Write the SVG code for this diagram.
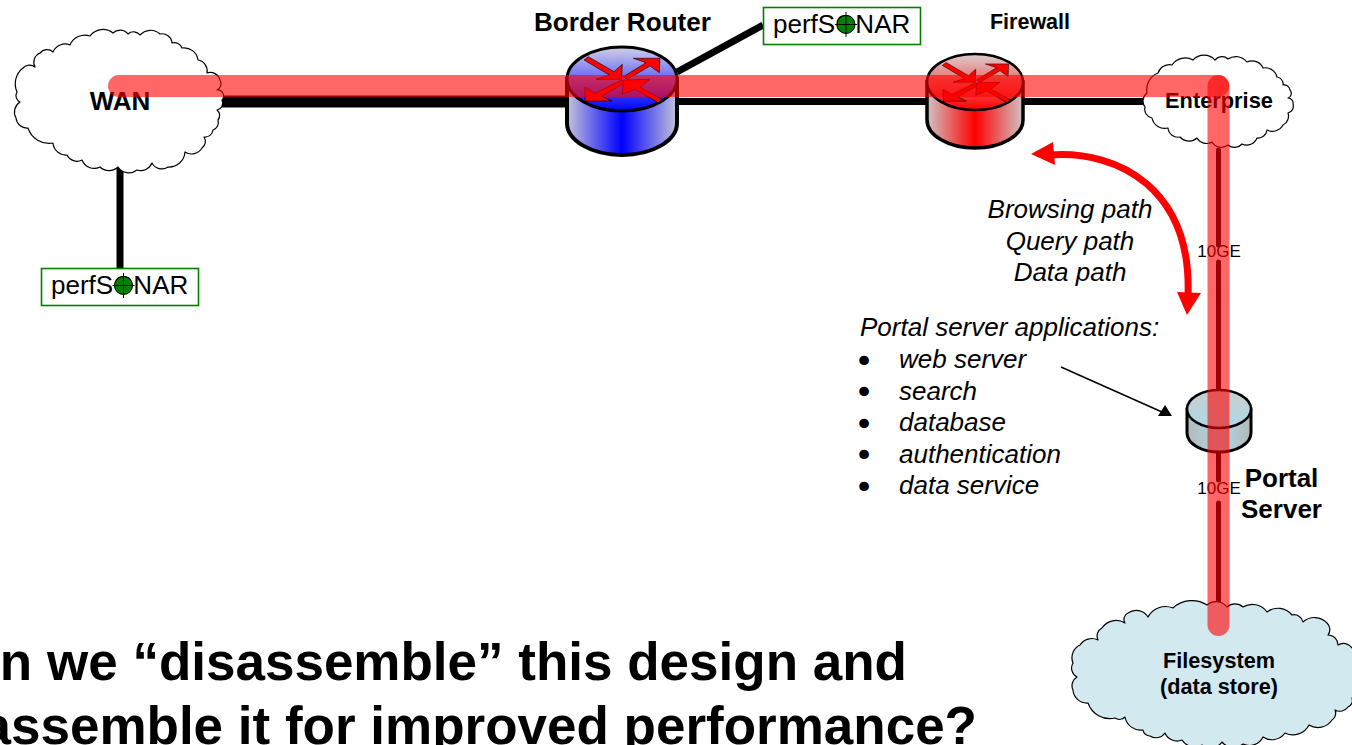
<svg xmlns="http://www.w3.org/2000/svg" width="1352" height="745" viewBox="0 0 1352 745">
<style>
text{font-family:"Liberation Sans",Arial,Helvetica,sans-serif;fill:#000}
.b{font-weight:bold}
.i{font-style:italic;font-size:26px}
.m{text-anchor:middle}
.bu{font-size:26px;stroke:#000;stroke-width:2.6}
.cloud{stroke:#000;stroke-width:1.2;stroke-linejoin:round}
.k{stroke:#000;fill:none}
.ps{fill:#fff;stroke:#008000;stroke-width:1.6}
.pt{font-size:26px}
.logo{fill:#008000;stroke:#000;stroke-width:1}
.ar{fill:#f00;stroke:#000;stroke-width:.6;stroke-linejoin:round}
.band{stroke:#f00;stroke-opacity:.6;stroke-width:22;stroke-linecap:round;fill:none}
.g10{font-size:17px}
</style>
<defs>
<linearGradient id="bb"><stop offset="0" stop-color="#c4c4da"/><stop offset=".5" stop-color="#00f"/><stop offset="1" stop-color="#c4c4da"/></linearGradient>
<linearGradient id="bt" x1="0" y1="0" x2="0" y2="1"><stop offset="0" stop-color="#d0d0e6"/><stop offset="1" stop-color="#00f"/></linearGradient>
<linearGradient id="rb"><stop offset="0" stop-color="#d0c4c4"/><stop offset=".5" stop-color="#f00"/><stop offset="1" stop-color="#d0c4c4"/></linearGradient>
<linearGradient id="rt" x1="0" y1="0" x2="0" y2="1"><stop offset="0" stop-color="#dcd0d0"/><stop offset="1" stop-color="#f00"/></linearGradient>
<linearGradient id="sb"><stop offset="0" stop-color="#b4b8ba"/><stop offset=".5" stop-color="#add8e6"/><stop offset="1" stop-color="#b4b8ba"/></linearGradient>
<linearGradient id="st" x1="0" y1="0" x2="0" y2="1"><stop offset="0" stop-color="#c8ced0"/><stop offset="1" stop-color="#add8e6"/></linearGradient>
<g id="arrows">
<polygon class="ar" points="-33.7,-22.3 -8,-7.3 .3,-14.7 -.3,.3 -26,.3 -12.7,-4 -38,-19"/>
<polygon class="ar" points="1.3,-2.3 24,-16.3 11.3,-20.7 38,-20.7 37.3,-6.3 28,-13 5.3,.3"/>
<polygon class="ar" points="-.3,1 -27,14.3 -37,8.3 -37,22 -10.3,22 -20.3,17 2.3,4.3"/>
<polygon class="ar" points=".3,15.3 13,10.3 36.3,23.7 39.7,20.3 18,8.3 28,.3 1.3,1"/>
</g>
</defs>
<rect width="1352" height="745" fill="#fff"/>

<g id="connectors">
<path class="k" stroke-width="12" d="M215,101.500H570"/>
<path class="k" stroke-width="7" d="M675,101.500H930M1020,101.500H1150"/>
<path class="k" stroke-width="7" d="M677,72L763,25"/>
<path class="k" stroke-width="7" d="M120,165V268"/>
<path class="k" stroke-width="5" stroke-linecap="round" d="M1218.500,150V245M1218.500,262V480M1218.500,503V612"/>
<path class="k" stroke-width="1.500" d="M1061,367L1162,412"/>
<polygon points="1172,416 1158,416 1165,405"/>
<path d="M1050,155C1120,150 1192,190 1188,296" fill="none" stroke="#f00" stroke-width="7"/>
<polygon points="1031,154 1053,142 1055,165" fill="#f00"/>
<polygon points="1187,315 1177,292 1201,293" fill="#f00"/>
</g>

<g id="wan">
<path class="cloud" fill="#fff" d="M53,52A13,13 0 0 1 70,45A16,16 0 0 1 90,36A16,16 0 0 1 113,33A10,10 0 0 1 128,34A8,8 0 0 1 140,35A14,14 0 0 1 160,34A10,10 0 0 1 172,43A8,8 0 0 1 182,48A14,14 0 0 1 198,60A11,11 0 0 1 207,73A10,10 0 0 1 220,80A7,7 0 0 1 217,90A6,6 0 0 1 222,100A7,7 0 0 1 217,110A7,7 0 0 1 218,120A8,8 0 0 1 213,130A8,8 0 0 1 204,137A8,8 0 0 1 202,148A12,12 0 0 1 185,152A16,16 0 0 1 168,167A11,11 0 0 1 152,163A12,12 0 0 1 137,170A13,13 0 0 1 118,167A13,13 0 0 1 100,167A13,13 0 0 1 82,160A11,11 0 0 1 67,155A13,13 0 0 1 53,143A22,22 0 0 1 28,128A11,11 0 0 1 16,118A12,12 0 0 1 20,102A7,7 0 0 1 17,92A20,20 0 0 1 23,68A9,9 0 0 1 35,67A10,10 0 0 1 40,53A9,9 0 0 1 53,52Z"/>
<text class="b m" x="120" y="110" font-size="26">WAN</text>
</g>

<g id="border-router">
<path d="M567,79V123A55,32 0 0 0 677,123V79Z" fill="url(#bb)" stroke="#000" stroke-width="4"/>
<ellipse cx="622" cy="79" rx="55" ry="32" fill="url(#bt)" stroke="#000" stroke-width="3"/>
<use href="#arrows" transform="translate(622,79)"/>
<text class="b m" x="622.500" y="31" font-size="26" textLength="177" lengthAdjust="spacingAndGlyphs">Border Router</text>
</g>

<g id="perfsonar-top">
<rect class="ps" x="763.500" y="7.500" width="157" height="37"/>
<text class="pt" x="773" y="33">perfSONAR</text>
<ellipse class="logo" cx="846" cy="24.500" rx="9" ry="9"/>
<path class="k" stroke-width="1" d="M846,12V37M835,24.500H857"/>
</g>

<g id="perfsonar-wan">
<rect class="ps" x="41.500" y="268.500" width="157" height="37"/>
<text class="pt" x="51" y="294">perfSONAR</text>
<ellipse class="logo" cx="123.500" cy="285.500" rx="9" ry="9"/>
<path class="k" stroke-width="1" d="M123.500,273V298M112.500,285.500H134.500"/>
</g>

<g id="firewall">
<path d="M927,82V120A48,28 0 0 0 1023,120V82Z" fill="url(#rb)" stroke="#000" stroke-width="3.500"/>
<ellipse cx="975" cy="82" rx="48" ry="28" fill="url(#rt)" stroke="#000" stroke-width="2.500"/>
<use href="#arrows" transform="translate(975.500,82) scale(.873)"/>
<text class="b m" x="1030" y="29" font-size="21.500">Firewall</text>
</g>

<g id="enterprise">
<path class="cloud" fill="#fff" d="M1158,73A12,12 0 0 1 1172,65A16,16 0 0 1 1193,60A15,15 0 0 1 1215,60A9,9 0 0 1 1228,59A14,14 0 0 1 1247,62A12,12 0 0 1 1263,68A12,12 0 0 1 1277,77A7,7 0 0 1 1283,85A6,6 0 0 1 1290,90A5,5 0 0 1 1288,98A5,5 0 0 1 1293,104A7,7 0 0 1 1288,113A10,10 0 0 1 1283,125A12,12 0 0 1 1267,130A9,9 0 0 1 1257,138A11,11 0 0 1 1242,144A10,10 0 0 1 1228,145A11,11 0 0 1 1212,142A11,11 0 0 1 1197,138A12,12 0 0 1 1180,137A10,10 0 0 1 1168,128A13,13 0 0 1 1152,118A9,9 0 0 1 1145,107A10,10 0 0 1 1147,93A18,18 0 0 1 1158,73Z"/>
<text class="b m" x="1219" y="108" font-size="21.800">Enterprise</text>
</g>

<g id="portal-server">
<path d="M1187,409V433A32,19 0 0 0 1251,433V409Z" fill="url(#sb)" stroke="#000" stroke-width="3"/>
<ellipse cx="1219" cy="409" rx="32" ry="19" fill="url(#st)" stroke="#000" stroke-width="2.500"/>
<text class="b m" x="1281.500" y="487" font-size="26">Portal</text>
<text class="b m" x="1281.500" y="518" font-size="26">Server</text>
</g>

<g id="filesystem">
<path class="cloud" fill="#d2e9f0" d="M1080,645A14,14 0 0 1 1098,640A9,9 0 0 1 1102,628A17,17 0 0 1 1125,623A7,7 0 0 1 1128,613A14,14 0 0 1 1148,617A20,20 0 0 1 1173,608A28,28 0 0 1 1207,605A14,14 0 0 1 1227,607A12,12 0 0 1 1243,607A18,18 0 0 1 1267,612A18,18 0 0 1 1292,615A9,9 0 0 1 1303,622A17,17 0 0 1 1327,623A9,9 0 0 1 1328,635A10,10 0 0 1 1338,645A10,10 0 0 1 1352,648A16,16 0 0 1 1372,660A30,30 0 0 1 1352,698A7,7 0 0 1 1348,707A10,10 0 0 1 1335,710A8,8 0 0 1 1332,720A17,17 0 0 1 1309,725A18,18 0 0 1 1285,733A16,16 0 0 1 1263,737A15,15 0 0 1 1243,744A15,15 0 0 1 1222,742A14,14 0 0 1 1202,745A15,15 0 0 1 1182,740A13,13 0 0 1 1165,733A11,11 0 0 1 1150,736A7,7 0 0 1 1143,730A16,16 0 0 1 1125,717A8,8 0 0 1 1115,718A23,23 0 0 1 1088,703A14,14 0 0 1 1073,690A10,10 0 0 1 1077,677A10,10 0 0 1 1073,663A14,14 0 0 1 1080,645Z"/>
<text class="b m" x="1219" y="668" font-size="21.700">Filesystem</text>
<text class="b m" x="1219" y="694" font-size="21.700">(data store)</text>
</g>

<g id="labels">
<text class="g10 m" x="1219" y="257">10GE</text>
<text class="g10 m" x="1219" y="494">10GE</text>
<text class="i m" x="1070" y="218">Browsing path</text>
<text class="i m" x="1070" y="250">Query path</text>
<text class="i m" x="1070" y="281">Data path</text>
<text class="i" x="860" y="336">Portal server applications:</text>
<text class="bu" x="859.500" y="369">•</text><text class="i" x="899" y="368">web server</text>
<text class="bu" x="859.500" y="400">•</text><text class="i" x="899" y="400">search</text>
<text class="bu" x="859.500" y="432">•</text><text class="i" x="899" y="431">database</text>
<text class="bu" x="859.500" y="463">•</text><text class="i" x="899" y="463">authentication</text>
<text class="bu" x="859.500" y="495">•</text><text class="i" x="899" y="494">data service</text>
<text class="b" x="907" y="680" font-size="53" text-anchor="end">n we “disassemble” this design and</text>
<text class="b" x="977" y="744" font-size="53" text-anchor="end">assemble it for improved performance?</text>
</g>

<g id="data-path">
<path class="band" d="M119,86H1218"/>
<path class="band" d="M1218.500,86V625"/>
</g>
</svg>
